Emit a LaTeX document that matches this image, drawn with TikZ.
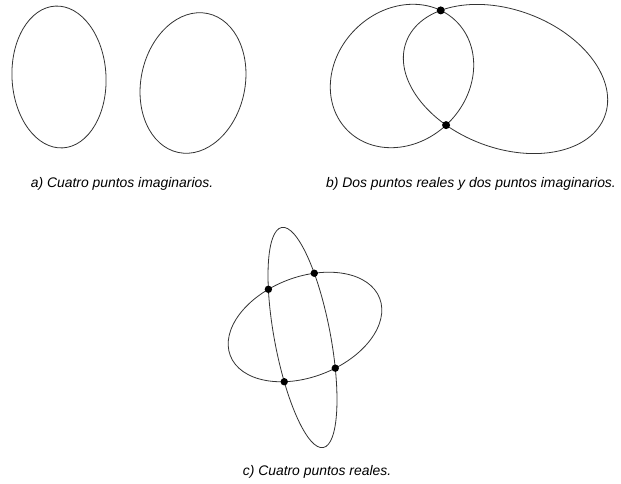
\documentclass[tikz,border=0pt]{standalone}
\usepackage{fontspec}
\setmainfont{Liberation Sans}
\usetikzlibrary{intersections}
\begin{document}
\begin{tikzpicture}[x=1pt,y=1pt,
  curve/.style={draw=black!80, line width=0.8pt},
  dot/.style={fill=black},
  caption/.style={font=\fontsize{13.9}{16}\selectfont\itshape, inner sep=0pt}]
\useasboundingbox (0,0) rectangle (621,484);
% panel a
\draw[curve, shift={(59,407)}, rotate=3] (0,0) ellipse (47 and 71);
\draw[curve, shift={(193,401)}, rotate=-12] (0,0) ellipse (52 and 71);
% panel b
\draw[curve, name path=bl, shift={(402,408)}, rotate=45] (0,0) ellipse (77 and 66);
\draw[curve, name path=br, shift={(505.5,405)}, rotate=-20.6] (0,0) ellipse (106 and 69);
\fill[dot, name intersections={of=bl and br, name=ib, total=\t}]
  \foreach \k in {1,...,\t} {(ib-\k) circle (4)};
% panel c
\draw[curve, name path=cv, shift={(302.5,146.5)}, rotate=10.7] (0,0) ellipse (28 and 112);
\draw[curve, name path=ch, shift={(305,157)}, rotate=21] (0,0) ellipse (80 and 50);
\fill[dot, name intersections={of=cv and ch, name=ic, total=\t}]
  \foreach \k in {1,...,\t} {(ic-\k) circle (3.7)};
% captions
\node[caption] (capa) at (122,300) {a) Cuatro puntos imaginarios.};
\node[caption] (capb) at (471,300) {b) Dos puntos reales y dos puntos imaginarios.};
\node[caption] (capc) at (317,12) {c) Cuatro puntos reales.};
\end{tikzpicture}
\end{document}
